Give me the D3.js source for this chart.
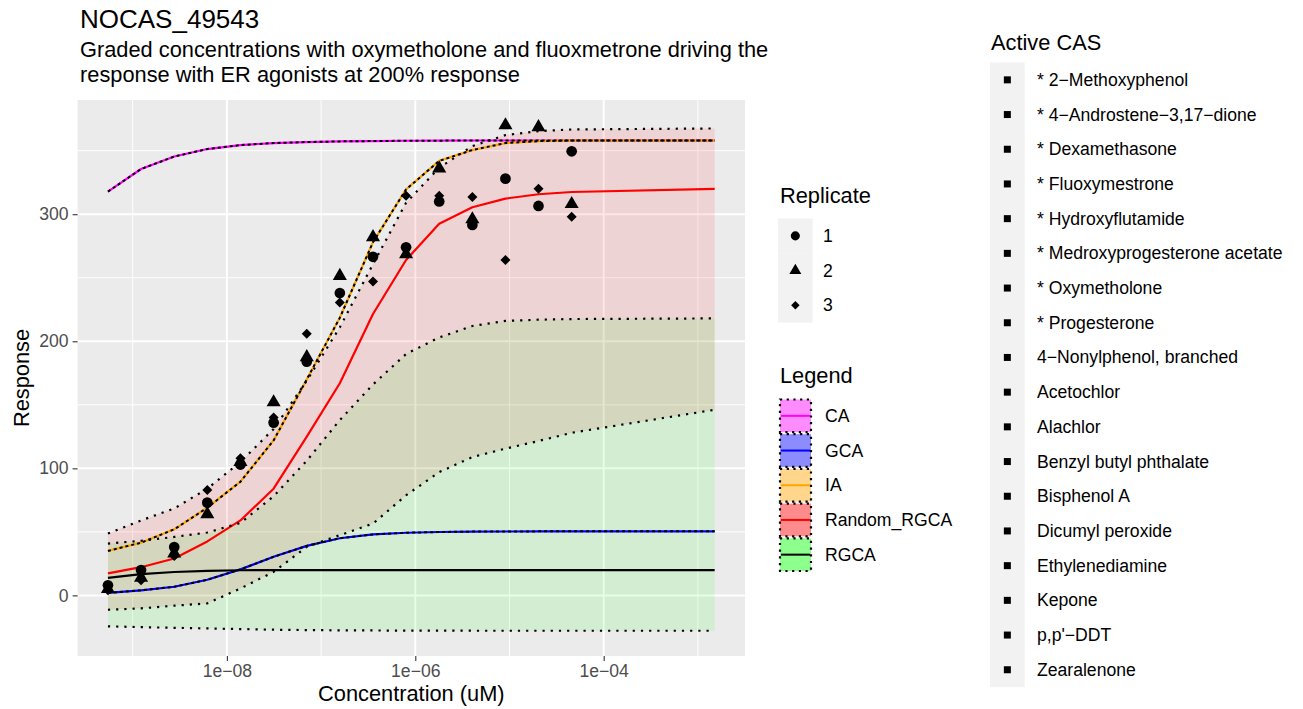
<!DOCTYPE html>
<html>
<head>
<meta charset="utf-8">
<script src="https://cdn.jsdelivr.net/npm/d3@7"></script>
<style>
  body { margin: 0; background: #ffffff; }
  text { font-family: "Liberation Sans", Arial, Helvetica, sans-serif; }
</style>
</head>
<body>
<svg id="chart" width="1303" height="709"></svg>
<script>
// ---- data -------------------------------------------------------------
// tested concentrations (uM)
const concentrations = [5.46e-10, 1.227e-9, 2.761e-9, 6.194e-9, 1.393e-8, 3.133e-8, 7.047e-8,
  1.581e-7, 3.556e-7, 7.98e-7, 1.795e-6, 4.036e-6, 9.06e-6, 2.032e-5, 4.571e-5];
// prediction grid: the tested concentrations plus the top of the range
const curveConcentrations = concentrations.concat([1.507e-3]);

// observed responses per replicate
const replicate1 = [8, 20, 38, 73, 103, 136, 184, 238, 266.5, 274, 310, 291.5, 328, 306.5, 349.5];
const replicate2 = [5, 14, 33, 64, 105, 152, 187.5, 251.5, 282, 268.5, 336, 296, 370, 368.5, 308];
const replicate3 = [4, 12, 31, 83, 108, 140, 206, 230.5, 247, 314.5, 314.5, 313.5, 264, 320, 298];

// model predictions on the grid
const predCA = [317.8, 335.6, 345.4, 351.3, 354.4, 356.0, 356.8, 357.3, 357.6, 357.8, 357.9, 358.0, 358.0, 358.0, 358.0, 358.0];
const predGCA = [2.0, 4.0, 6.8, 12.3, 20.5, 30.4, 39.0, 45.0, 48.0, 49.3, 49.9, 50.2, 50.3, 50.4, 50.4, 50.4];
const predIA = [35.0, 41.5, 52.0, 69.0, 89.5, 122.0, 170.0, 218.5, 278.0, 319.5, 342.0, 350.5, 356.0, 357.5, 358.0, 358.0];
const predRandomRGCA = [17.3, 22.2, 29.0, 42.5, 59.0, 84.0, 125.0, 167.0, 221.5, 264.0, 292.5, 305.5, 312.3, 315.7, 317.5, 320.0];
const predRGCA = [13.8, 16.7, 18.4, 19.3, 19.8, 19.9, 19.9, 19.9, 19.9, 19.9, 19.9, 19.9, 19.9, 19.9, 19.9, 19.9];

// uncertainty bands
const randomRGCALower = [-11.3, -10.2, -8.1, -6.3, 5.5, 18.5, 38.2, 47.4, 56.5, 78.8, 97.0, 108.9, 115.5, 121.5, 128.0, 146.1];
const randomRGCAUpper = [48.7, 59.0, 68.4, 84.0, 105.0, 131.0, 169.0, 211.0, 260.7, 309.0, 336.6, 353.6, 362.3, 365.4, 366.7, 367.5];
const rgcaLower = [-24.3, -25.0, -25.5, -26.0, -26.5, -27.0, -27.3, -27.5, -27.6, -27.7, -27.7, -27.8, -27.8, -27.8, -27.8, -27.8];
const rgcaUpper = [40.8, 43.0, 46.0, 49.5, 57.0, 78.0, 106.0, 138.0, 166.0, 190.0, 203.0, 212.0, 216.0, 217.0, 217.5, 218.0];

// axes
const xMajorTicks = [1e-8, 1e-6, 1e-4];
const xTickLabels = ["1e\u221208", "1e\u221206", "1e\u221204"];
const xMinorTicks = [1e-9, 1e-7, 1e-5, 1e-3];
const yMajorTicks = [0, 100, 200, 300];
const yMinorTicks = [50, 150, 250, 350];

// legends
const replicateLabels = ["1", "2", "3"];
const methodNames = ["CA", "GCA", "IA", "Random_RGCA", "RGCA"];
const methodLineColors = ["#FF00FF", "#0000FF", "#FFA500", "#FF0000", "#000000"];
const methodFillColors = ["#FF00FF", "#0000FF", "#FFA500", "#FF0000", "#00FF00"];
const activeCAS = ["* 2\u2212Methoxyphenol", "* 4\u2212Androstene\u22123,17\u2212dione", "* Dexamethasone",
  "* Fluoxymestrone", "* Hydroxyflutamide", "* Medroxyprogesterone acetate", "* Oxymetholone",
  "* Progesterone", "4\u2212Nonylphenol, branched", "Acetochlor", "Alachlor", "Benzyl butyl phthalate",
  "Bisphenol A", "Dicumyl peroxide", "Ethylenediamine", "Kepone", "p,p'\u2212DDT", "Zearalenone"];

// ---- layout -----------------------------------------------------------
const svg = d3.select("#chart");
const panel = { left: 77.6, right: 745, top: 100, bottom: 656 };
const FS_TITLE = 26, FS_BASE = 21.8, FS_SMALL = 17.6;

// ggplot-like 5% expansion of the data range
const logLo = Math.log10(d3.min(concentrations));
const logHi = Math.log10(d3.max(curveConcentrations));
const xPad = 0.05 * (logHi - logLo);
const x = d3.scaleLog()
  .domain([Math.pow(10, logLo - xPad), Math.pow(10, logHi + xPad)])
  .range([panel.left, panel.right]);

const allY = [].concat(replicate1, replicate2, replicate3, predCA, predGCA, predIA, predRandomRGCA,
  predRGCA, randomRGCALower, randomRGCAUpper, rgcaLower, rgcaUpper);
const yLo = d3.min(allY), yHi = d3.max(allY), yPad = 0.05 * (yHi - yLo);
const y = d3.scaleLinear().domain([yLo - yPad, yHi + yPad]).range([panel.bottom, panel.top]);

// ---- panel background and grid -----------------------------------------
svg.append("rect")
  .attr("x", panel.left).attr("y", panel.top)
  .attr("width", panel.right - panel.left).attr("height", panel.bottom - panel.top)
  .attr("fill", "#EBEBEB");

const grid = svg.append("g");
grid.selectAll(".ymin").data(yMinorTicks).join("line")
  .attr("x1", panel.left).attr("x2", panel.right)
  .attr("y1", d => y(d)).attr("y2", d => y(d))
  .attr("stroke", "#ffffff").attr("stroke-width", 1);
grid.selectAll(".xmin").data(xMinorTicks).join("line")
  .attr("y1", panel.top).attr("y2", panel.bottom)
  .attr("x1", d => x(d)).attr("x2", d => x(d))
  .attr("stroke", "#ffffff").attr("stroke-width", 1);
grid.selectAll(".ymaj").data(yMajorTicks).join("line")
  .attr("x1", panel.left).attr("x2", panel.right)
  .attr("y1", d => y(d)).attr("y2", d => y(d))
  .attr("stroke", "#ffffff").attr("stroke-width", 2);
grid.selectAll(".xmaj").data(xMajorTicks).join("line")
  .attr("y1", panel.top).attr("y2", panel.bottom)
  .attr("x1", d => x(d)).attr("x2", d => x(d))
  .attr("stroke", "#ffffff").attr("stroke-width", 2);

// ---- bands --------------------------------------------------------------
function bandData(lower, upper) {
  return curveConcentrations.map((c, i) => ({ c, lo: lower[i], hi: upper[i] }));
}
function lineData(vals) {
  return curveConcentrations.map((c, i) => ({ c, v: vals[i] }));
}
const area = d3.area().x(d => x(d.c)).y0(d => y(d.lo)).y1(d => y(d.hi));
const line = d3.line().x(d => x(d.c)).y(d => y(d.v));

const bands = [
  { lower: randomRGCALower, upper: randomRGCAUpper, fill: methodFillColors[3] },
  { lower: rgcaLower, upper: rgcaUpper, fill: methodFillColors[4] }
];
bands.forEach(b => {
  svg.append("path").datum(bandData(b.lower, b.upper))
    .attr("d", area).attr("fill", b.fill).attr("fill-opacity", 0.1);
});

// ---- prediction lines ---------------------------------------------------
const preds = [predCA, predGCA, predIA, predRandomRGCA, predRGCA];
preds.forEach((p, i) => {
  svg.append("path").datum(lineData(p))
    .attr("d", line).attr("fill", "none")
    .attr("stroke", methodLineColors[i]).attr("stroke-width", 2.2)
    .attr("stroke-linejoin", "round");
});

// dotted band borders
bands.forEach(b => {
  [b.lower, b.upper].forEach(vals => {
    svg.append("path").datum(lineData(vals))
      .attr("d", line).attr("fill", "none")
      .attr("stroke", "#000000").attr("stroke-width", 2.2)
      .attr("stroke-dasharray", "2.2,6");
  });
});
// CA, GCA and IA bands have zero width: their borders sit right on the lines
[predCA, predGCA, predIA].forEach(p => {
  svg.append("path").datum(lineData(p))
    .attr("d", line).attr("fill", "none")
    .attr("stroke", "#000000").attr("stroke-width", 2)
    .attr("stroke-dasharray", "3,3");
});

// ---- observations -------------------------------------------------------
const shapeCircle = d3.symbol().type(d3.symbolCircle).size(90);
const shapeTriangle = d3.symbol().type(d3.symbolTriangle).size(86);
const shapeDiamond = d3.symbol().type(d3.symbolSquare).size(50);
const replicates = [
  { vals: replicate1, shape: shapeCircle, rot: 0 },
  { vals: replicate2, shape: shapeTriangle, rot: 0 },
  { vals: replicate3, shape: shapeDiamond, rot: 45 }
];
replicates.forEach(r => {
  svg.append("g").selectAll("path")
    .data(concentrations.map((c, i) => ({ c, v: r.vals[i] })))
    .join("path")
    .attr("d", r.shape())
    .attr("transform", d => `translate(${x(d.c)},${y(d.v)}) rotate(${r.rot})`)
    .attr("fill", "#000000");
});

// ---- axes ---------------------------------------------------------------
const xAxis = svg.append("g")
  .attr("transform", `translate(0,${panel.bottom})`)
  .call(d3.axisBottom(x).tickValues(xMajorTicks).tickFormat((d, i) => xTickLabels[i])
    .tickSize(5).tickPadding(4));
const yAxis = svg.append("g")
  .attr("transform", `translate(${panel.left},0)`)
  .call(d3.axisLeft(y).tickValues(yMajorTicks).tickSize(5).tickPadding(4));
[xAxis, yAxis].forEach(a => {
  a.select(".domain").remove();
  a.selectAll(".tick line").attr("stroke", "#333333").attr("stroke-width", 1.1);
  a.selectAll(".tick text").attr("fill", "#4D4D4D")
    .style("font-size", FS_SMALL + "px")
    .style("font-family", "'Liberation Sans', Arial, Helvetica, sans-serif");
});

svg.append("text")
  .attr("x", (panel.left + panel.right) / 2).attr("y", 701)
  .attr("text-anchor", "middle").style("font-size", FS_BASE + "px")
  .text("Concentration (uM)");
svg.append("text")
  .attr("transform", `translate(29,${(panel.top + panel.bottom) / 2}) rotate(-90)`)
  .attr("text-anchor", "middle").style("font-size", FS_BASE + "px")
  .text("Response");

// ---- titles -------------------------------------------------------------
svg.append("text").attr("x", 80).attr("y", 28)
  .style("font-size", FS_TITLE + "px").text("NOCAS_49543");
svg.append("text").attr("x", 80).attr("y", 57)
  .style("font-size", FS_BASE + "px")
  .text("Graded concentrations with oxymetholone and fluoxmetrone driving the");
svg.append("text").attr("x", 80).attr("y", 82)
  .style("font-size", FS_BASE + "px")
  .text("response with ER agonists at 200% response");

// ---- legends ------------------------------------------------------------
const KEY = 34.7;

// Replicate
const repLeg = svg.append("g").attr("transform", "translate(778,0)");
repLeg.append("text").attr("x", 2).attr("y", 203).style("font-size", FS_BASE + "px").text("Replicate");
replicateLabels.forEach((lab, i) => {
  const top = 218.5 + i * KEY;
  repLeg.append("rect").attr("x", 0).attr("y", top).attr("width", KEY).attr("height", KEY).attr("fill", "#F2F2F2");
  const r = replicates[i];
  repLeg.append("path").attr("d", r.shape())
    .attr("transform", `translate(${KEY / 2},${top + KEY / 2}) rotate(${r.rot}) scale(0.85)`)
    .attr("fill", "#000000");
  repLeg.append("text").attr("x", 45).attr("y", top + KEY / 2 + 6)
    .style("font-size", FS_SMALL + "px").text(lab);
});

// Legend (methods)
const methLeg = svg.append("g").attr("transform", "translate(779,0)");
methLeg.append("text").attr("x", 1).attr("y", 383).style("font-size", FS_BASE + "px").text("Legend");
methodNames.forEach((name, i) => {
  const top = 398.5 + i * KEY;
  methLeg.append("rect").attr("x", 1).attr("y", top + 1).attr("width", 31).attr("height", KEY - 2)
    .attr("fill", methodFillColors[i]).attr("fill-opacity", 0.45)
    .attr("stroke", "#000000").attr("stroke-width", 2.2).attr("stroke-dasharray", "2.2,4.5");
  methLeg.append("line").attr("x1", 2).attr("x2", 31)
    .attr("y1", top + KEY / 2).attr("y2", top + KEY / 2)
    .attr("stroke", methodLineColors[i]).attr("stroke-width", 2);
  methLeg.append("text").attr("x", 46).attr("y", top + KEY / 2 + 6)
    .style("font-size", FS_SMALL + "px").text(name);
});

// Active CAS
const casLeg = svg.append("g").attr("transform", "translate(990,0)");
casLeg.append("text").attr("x", 1).attr("y", 50).style("font-size", FS_BASE + "px").text("Active CAS");
casLeg.append("rect").attr("x", 0).attr("y", 62.5).attr("width", KEY).attr("height", KEY * activeCAS.length)
  .attr("fill", "#F2F2F2");
activeCAS.forEach((name, i) => {
  const cy = 62.5 + i * KEY + KEY / 2;
  casLeg.append("rect").attr("x", KEY / 2 - 3.5).attr("y", cy - 3.5).attr("width", 7).attr("height", 7)
    .attr("fill", "#000000");
  casLeg.append("text").attr("x", 47).attr("y", cy + 6)
    .style("font-size", FS_SMALL + "px").text(name);
});
</script>
</body>
</html>
